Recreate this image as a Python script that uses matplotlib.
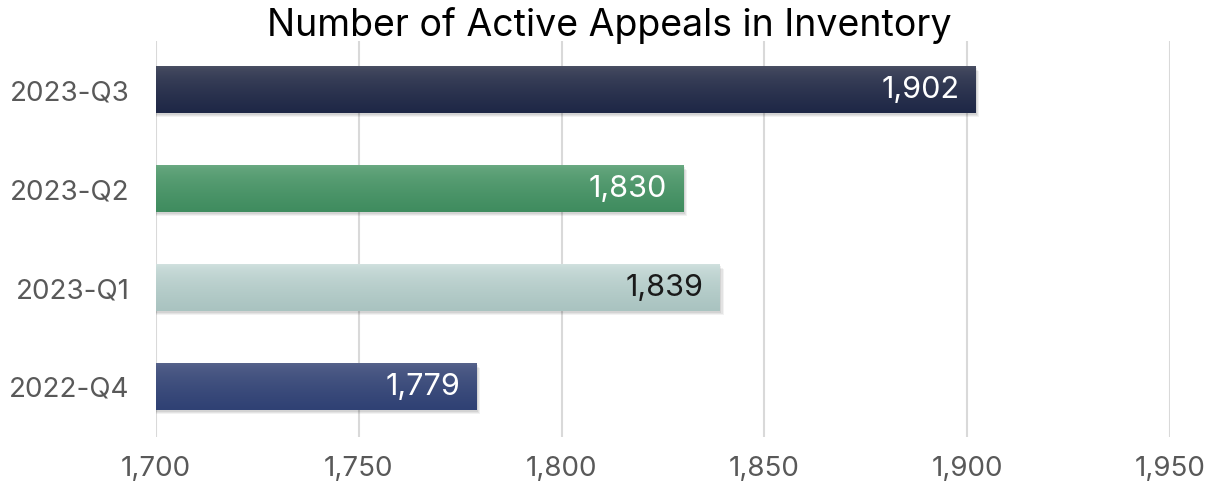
import numpy as np
import matplotlib.pyplot as plt
from matplotlib.colors import LinearSegmentedColormap

plt.rcParams['font.family'] = ['Inter', 'DejaVu Sans']

quarters = ["2022-Q4", "2023-Q1", "2023-Q2", "2023-Q3"]
appeals = [1779, 1839, 1830, 1902]
top_colors = ["#58648c", "#d2e2e0", "#6cab83", "#4b5064"]
bottom_colors = ["#2f4174", "#a9c3c0", "#3f8c5f", "#1e2746"]
label_colors = ["white", "#1a1a1a", "white", "white"]
ticks = [1700, 1750, 1800, 1850, 1900, 1950]

fig = plt.figure(figsize=(12.11, 4.87), dpi=100)
ax = fig.add_axes([156 / 1211, 1 - 436.5 / 487, (1170 - 156) / 1211, 396 / 487])

xmin, xmax = 1700, 1950
h = 0.465
grad = np.linspace(0, 1, 100) ** 0.6
grad = grad.reshape(-1, 1)
for i, (q, v) in enumerate(zip(quarters, appeals)):
    # soft drop shadow
    for k, a in enumerate([0.07, 0.06, 0.05]):
        ax.barh(i - 0.015 - 0.012 * k, v - xmin + 0.4 + 0.3 * k, left=xmin, height=h,
                color="black", alpha=a, zorder=2, linewidth=0)
    cmap = LinearSegmentedColormap.from_list(q, [top_colors[i], bottom_colors[i]])
    ax.imshow(grad, cmap=cmap, aspect="auto", extent=[xmin, v, i - h / 2, i + h / 2],
              origin="upper", zorder=3, interpolation="bicubic")
    ax.text(v - 4, i, f"{v:,}", ha="right", va="center", fontsize=22,
            color=label_colors[i], zorder=4)

ax.set_xlim(xmin, xmax)
ax.set_ylim(-0.5, 3.5)
ax.set_xticks(ticks)
ax.set_xticklabels([f"{t:,}" for t in ticks])
ax.set_yticks(range(len(quarters)))
ax.set_yticklabels(quarters)
ax.tick_params(axis="both", length=0, labelsize=20, labelcolor="#595959")
ax.tick_params(axis="x", pad=14)
ax.tick_params(axis="y", pad=19)
ax.grid(axis="x", color="#d9d9d9", linewidth=1.5, zorder=0)
ax.set_axisbelow(True)
for s in ax.spines.values():
    s.set_visible(False)
fig.suptitle("Number of Active Appeals in Inventory", fontsize=27, color="black",
             x=0.503, y=0.985, va="top")

fig.savefig("out.png", dpi=100)
